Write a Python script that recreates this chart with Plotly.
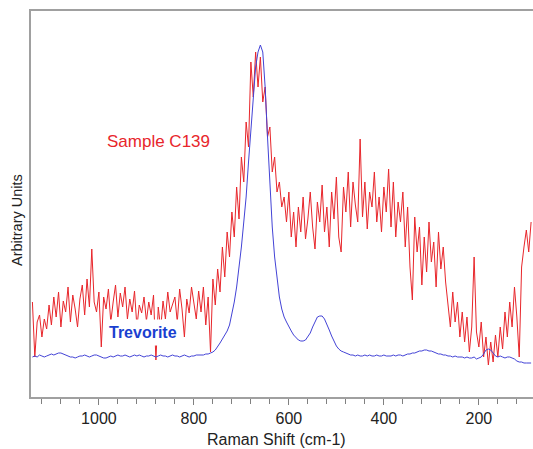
import plotly.graph_objects as go

# Raman shift grid (cm-1), 5 cm-1 steps from 1140 down to 90
raman_shift = list(range(1140, 85, -5))

sample_c139 = [
    95, 40, 75, 82, 60, 78, 68, 92, 72, 100,
    80, 105, 70, 96, 85, 110, 75, 102, 88, 70,
    98, 112, 82, 118, 90, 148, 95, 85, 105, 50,
    100, 88, 108, 75, 95, 112, 80, 104, 90, 110,
    78, 98, 85, 106, 70, 92, 84, 100, 76, 95,
    82, 102, 37, 90, 68, 96, 78, 105, 85, 92,
    100, 75, 108, 88, 60, 98, 84, 110, 92, 78,
    106, 85, 110, 72, 100, 45, 118, 92, 128, 105,
    150, 120, 165, 140, 185, 160, 210, 178, 240, 215,
    275, 250, 335, 300, 345, 310, 340, 295, 310, 260,
    270, 225, 240, 205, 215, 190, 200, 175, 205, 160,
    185, 150, 190, 165, 200, 158, 178, 205, 170, 148,
    195, 175, 212, 165, 190, 150, 205, 178, 220, 160,
    145, 210, 185, 225, 170, 215, 192, 175, 258, 180,
    215, 168, 205, 190, 225, 175, 200, 165, 210, 185,
    228, 170, 215, 160, 195, 175, 205, 150, 190, 130,
    97, 180, 145, 170, 112, 160, 125, 175, 135, 155,
    110, 165, 128, 150, 115, 90, 70, 105, 75, 95,
    60, 85, 55, 80, 45, 70, 140, 65, 50, 75,
    40, 60, 32, 55, 35, 62, 40, 70, 48, 85,
    60, 95, 70, 110, 80, 40, 130, 150, 167, 145,
    175,
]

trevorite = [
    40, 41, 40, 42, 41, 40, 41, 42, 43, 42,
    43, 44, 44, 43, 42, 41, 40, 40, 39, 40,
    41, 41, 42, 41, 40, 41, 42, 42, 41, 40,
    39, 39, 40, 41, 40, 41, 42, 41, 41, 42,
    41, 40, 41, 42, 41, 42, 41, 40, 41, 41,
    42, 41, 40, 41, 42, 41, 41, 40, 41, 42,
    41, 41, 40, 41, 42, 41, 40, 41, 41, 42,
    42, 42, 42, 43, 43, 44, 45, 47, 50, 54,
    58, 62, 66, 72, 82, 95, 110, 128, 150, 175,
    200, 235, 270, 305, 330, 345, 352, 345, 310, 260,
    210, 170, 140, 118, 100, 88, 80, 75, 70, 66,
    62, 59, 57, 56, 56, 57, 60, 64, 70, 76,
    80, 81, 81, 78, 73, 67, 61, 55, 51, 48,
    46, 45, 44, 43, 42, 42, 41, 42, 41, 41,
    42, 41, 42, 41, 41, 42, 41, 41, 42, 41,
    41, 41, 42, 41, 42, 42, 41, 42, 43, 43,
    44, 44, 45, 46, 46, 47, 47, 46, 46, 45,
    44, 43, 43, 42, 42, 41, 41, 40, 41, 40,
    40, 40, 39, 40, 39, 39, 40, 38, 39, 40,
    43, 47, 48, 47, 44, 41, 40, 41, 40, 39,
    40, 40, 39, 38, 36, 35, 35, 34, 34, 34,
    34,
]

tick_vals = [1000, 800, 600, 400, 200]
tick_text = ["1000", "800", "600", "400", "200"]

FONT = "Arial, Liberation Sans, Helvetica, sans-serif"

fig = go.Figure()
fig.add_trace(go.Scatter(x=raman_shift, y=sample_c139, mode="lines",
                         line=dict(color="#e8262b", width=1), name="Sample C139"))
fig.add_trace(go.Scatter(x=raman_shift, y=trevorite, mode="lines",
                         line=dict(color="#4343d6", width=1), name="Trevorite"))

fig.update_layout(
    width=533, height=449,
    margin=dict(l=31, r=0, t=11, b=52),
    paper_bgcolor="white", plot_bgcolor="white",
    showlegend=False,
    font=dict(family=FONT, color="#222222"),
    xaxis=dict(
        range=[1143, 86], showgrid=False, zeroline=False,
        showline=True, linecolor="#a0a0a0", linewidth=1.5, mirror=True,
        tickmode="array", tickvals=tick_vals, ticktext=tick_text,
        ticks="outside", ticklen=6, tickcolor="#808080", tickwidth=1,
        tickfont=dict(size=16, color="#222222", family=FONT),
        minor=dict(dtick=40, tick0=0, ticks="outside", ticklen=5,
                   tickcolor="#808080", tickwidth=1, showgrid=False),
    ),
    yaxis=dict(
        range=[0, 386], showgrid=False, zeroline=False,
        showline=True, linecolor="#a0a0a0", linewidth=1.5,
        showticklabels=False, ticks="",
    ),
    annotations=[
        dict(text="Raman Shift (cm-1)", xref="paper", yref="paper",
             x=0.49, y=-0.109, xanchor="center", yanchor="middle",
             showarrow=False, font=dict(size=16, color="#222222", family=FONT)),
        dict(text="Arbitrary Units", xref="paper", yref="paper",
             x=-14 / 502, y=0.4585, xanchor="center", yanchor="middle",
             textangle=-90, showarrow=False,
             font=dict(size=14.5, color="#222222", family=FONT)),
        dict(text="Sample C139", xref="x", yref="y", x=874, y=256,
             xanchor="center", yanchor="middle", showarrow=False,
             font=dict(size=17, color="#e8262b", family=FONT)),
        dict(text="<b>Trevorite</b>", xref="x", yref="y", x=907, y=65,
             xanchor="center", yanchor="middle", showarrow=False,
             bgcolor="white", borderpad=4,
             font=dict(size=16, color="#1a3fd0", family=FONT)),
    ],
)

fig.write_html("out.html",
               config={"displayModeBar": False},
               post_script="document.body.style.margin='0px';document.body.style.overflow='hidden';")
